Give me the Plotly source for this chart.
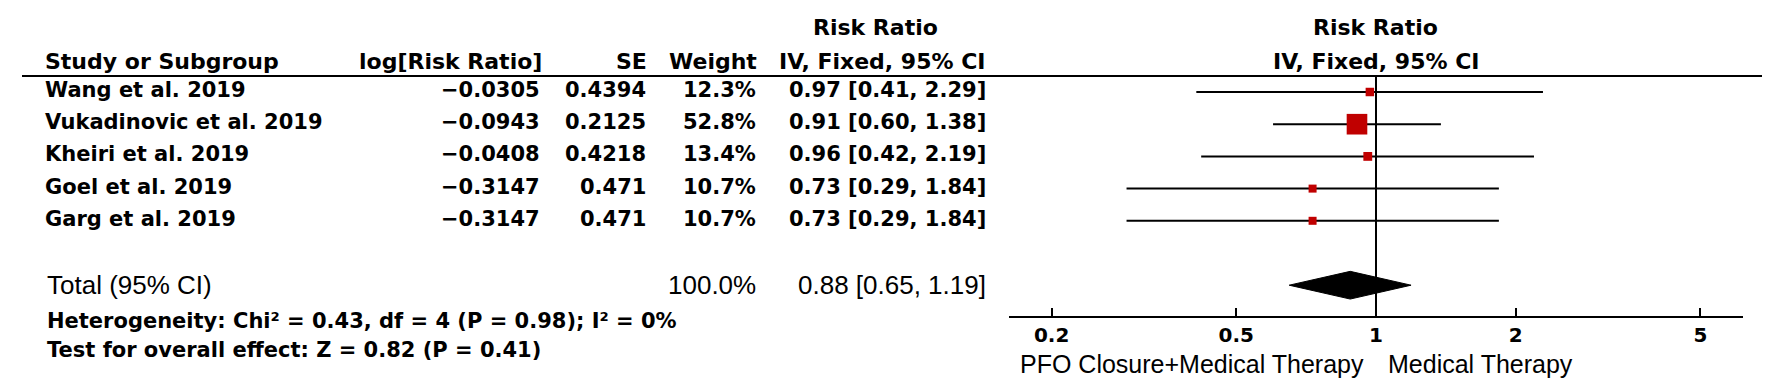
import plotly.graph_objects as go

# ---------------- data ----------------
studies = ["Wang et al. 2019", "Vukadinovic et al. 2019", "Kheiri et al. 2019",
           "Goel et al. 2019", "Garg et al. 2019"]
log_rr = [-0.0305, -0.0943, -0.0408, -0.3147, -0.3147]
se = [0.4394, 0.2125, 0.4218, 0.471, 0.471]
weight = [12.3, 52.8, 13.4, 10.7, 10.7]
rr = [0.97, 0.91, 0.96, 0.73, 0.73]
ci_low = [0.41, 0.60, 0.42, 0.29, 0.29]
ci_high = [2.29, 1.38, 2.19, 1.84, 1.84]

total_label = "Total (95% CI)"
total_weight = 100.0
total_rr = 0.88
total_low = 0.65
total_high = 1.19
heterogeneity = "Heterogeneity: Chi² = 0.43, df = 4 (P = 0.98); I² = 0%"
overall = "Test for overall effect: Z = 0.82 (P = 0.41)"

tick_vals = [0.2, 0.5, 1, 2, 5]
tick_text = ["0.2", "0.5", "1", "2", "5"]
left_label = "PFO Closure+Medical Therapy"
right_label = "Medical Therapy"

# ---------------- layout constants ----------------
W, H = 1772, 387
ROW0_PX, ROW_PX = 92.0, 32.2          # pixel y of first row, row spacing
def prow(py):                           # pixel y -> row units
    return (py - ROW0_PX) / ROW_PX
def px(x):
    return x / W
def py(y):
    return 1 - y / H

TOTAL_ROW = 6
HEADER_ROW = -0.5
AXIS_ROW = 7
X_LEFT_PX, X_RIGHT_PX = 1009, 1743
half_dec = 0.7909

BOLD = "DejaVu Sans"
REG = "Liberation Sans, Arial, sans-serif"
RED = "#C00000"

fig = go.Figure()

# whiskers
for i in range(len(studies)):
    fig.add_trace(go.Scatter(x=[ci_low[i], ci_high[i]], y=[i, i], mode="lines",
                             line=dict(color="black", width=2), hoverinfo="skip",
                             showlegend=False))
# squares
sizes = [8 + 0.3 * (w - 10.7) for w in weight]
fig.add_trace(go.Scatter(x=rr, y=list(range(len(studies))), mode="markers",
                         marker=dict(symbol="square", size=sizes, color=RED, opacity=1,
                                     line=dict(width=0)),
                         opacity=1, showlegend=False, hoverinfo="skip"))
# diamond
dh = 0.43
fig.add_trace(go.Scatter(x=[total_low, total_rr, total_high, total_rr, total_low],
                         y=[TOTAL_ROW, TOTAL_ROW - dh, TOTAL_ROW, TOTAL_ROW + dh, TOTAL_ROW],
                         mode="lines", fill="toself", fillcolor="black",
                         line=dict(color="black", width=1), showlegend=False,
                         hoverinfo="skip"))

shapes = [
    dict(type="line", xref="paper", yref="y", x0=px(22), x1=px(1762),
         y0=HEADER_ROW, y1=HEADER_ROW, line=dict(color="black", width=2)),
    dict(type="line", xref="x", yref="y", x0=1, x1=1, y0=HEADER_ROW, y1=AXIS_ROW,
         line=dict(color="black", width=2)),
]

ann = []
def add(text, x, y, xanchor="left", size=20, family=BOLD, weight="bold", yref="paper", yshift=0):
    ann.append(dict(text=text, x=x, y=y, xref="paper", yref=yref, xanchor=xanchor,
                    yanchor="middle", showarrow=False, yshift=yshift,
                    font=dict(family=family, size=size, color="black", weight=weight)))

HS = 22
RS = 21
# headers
add("Risk Ratio", px(875), py(27), "center", HS)
add("Study or Subgroup", px(43), py(61), "left", HS)
add("log[Risk Ratio]", px(544), py(61), "right", HS)
add("SE", px(649), py(61), "right", HS)
add("Weight", px(759), py(61), "right", HS)
add("IV, Fixed, 95% CI", px(988), py(61), "right", HS)
add("Risk Ratio", px(1375), py(27), "center", HS)
add("IV, Fixed, 95% CI", px(1376), py(61), "center", HS)

def fmt_num(v):
    return str(v).replace("-", "\u2212")

for i, s in enumerate(studies):
    add(s, px(43), i, "left", RS, yref="y", yshift=2)
    add(fmt_num(log_rr[i]), px(542), i, "right", RS, yref="y", yshift=2)
    add(fmt_num(se[i]), px(648), i, "right", RS, yref="y", yshift=2)
    add(f"{weight[i]:.1f}%", px(758), i, "right", RS, yref="y", yshift=2)
    add(f"{rr[i]:.2f} [{ci_low[i]:.2f}, {ci_high[i]:.2f}]", px(988), i, "right", RS,
        yref="y", yshift=2)

TS = 26
add(total_label, px(45), TOTAL_ROW, "left", TS, REG, "normal", yref="y", yshift=0)
add(f"{total_weight:.1f}%", px(758), TOTAL_ROW, "right", TS, REG, "normal", yref="y")
add(f"{total_rr:.2f} [{total_low:.2f}, {total_high:.2f}]", px(988), TOTAL_ROW, "right", TS,
    REG, "normal", yref="y")
add(heterogeneity, px(45), py(321), "left", RS)
add(overall, px(45), py(350), "left", RS)
add(left_label, px(1366), py(364), "right", 25, REG, "normal")
add(right_label, px(1386), py(364), "left", 25, REG, "normal")

fig.update_layout(
    width=W, height=H, margin=dict(l=0, r=0, t=0, b=0),
    paper_bgcolor="white", plot_bgcolor="white",
    shapes=shapes, annotations=ann, showlegend=False,
    xaxis=dict(type="log", domain=[px(X_LEFT_PX), px(X_RIGHT_PX)],
               range=[-half_dec, half_dec], anchor="free",
               position=1 - (ROW0_PX + AXIS_ROW * ROW_PX) / H,
               showline=True, linecolor="black", linewidth=2,
               ticks="inside", ticklen=8, tickwidth=2, tickcolor="black",
               tickvals=tick_vals, ticktext=tick_text, showgrid=False, zeroline=False,
               tickfont=dict(family=BOLD, size=20, color="black", weight="bold")),
    yaxis=dict(range=[prow(H), prow(0)], visible=False, domain=[0, 1],
               showgrid=False, zeroline=False),
)

fig.write_html("out.html", config={"displayModeBar": False},
               post_script="document.body.style.margin='0px';")
